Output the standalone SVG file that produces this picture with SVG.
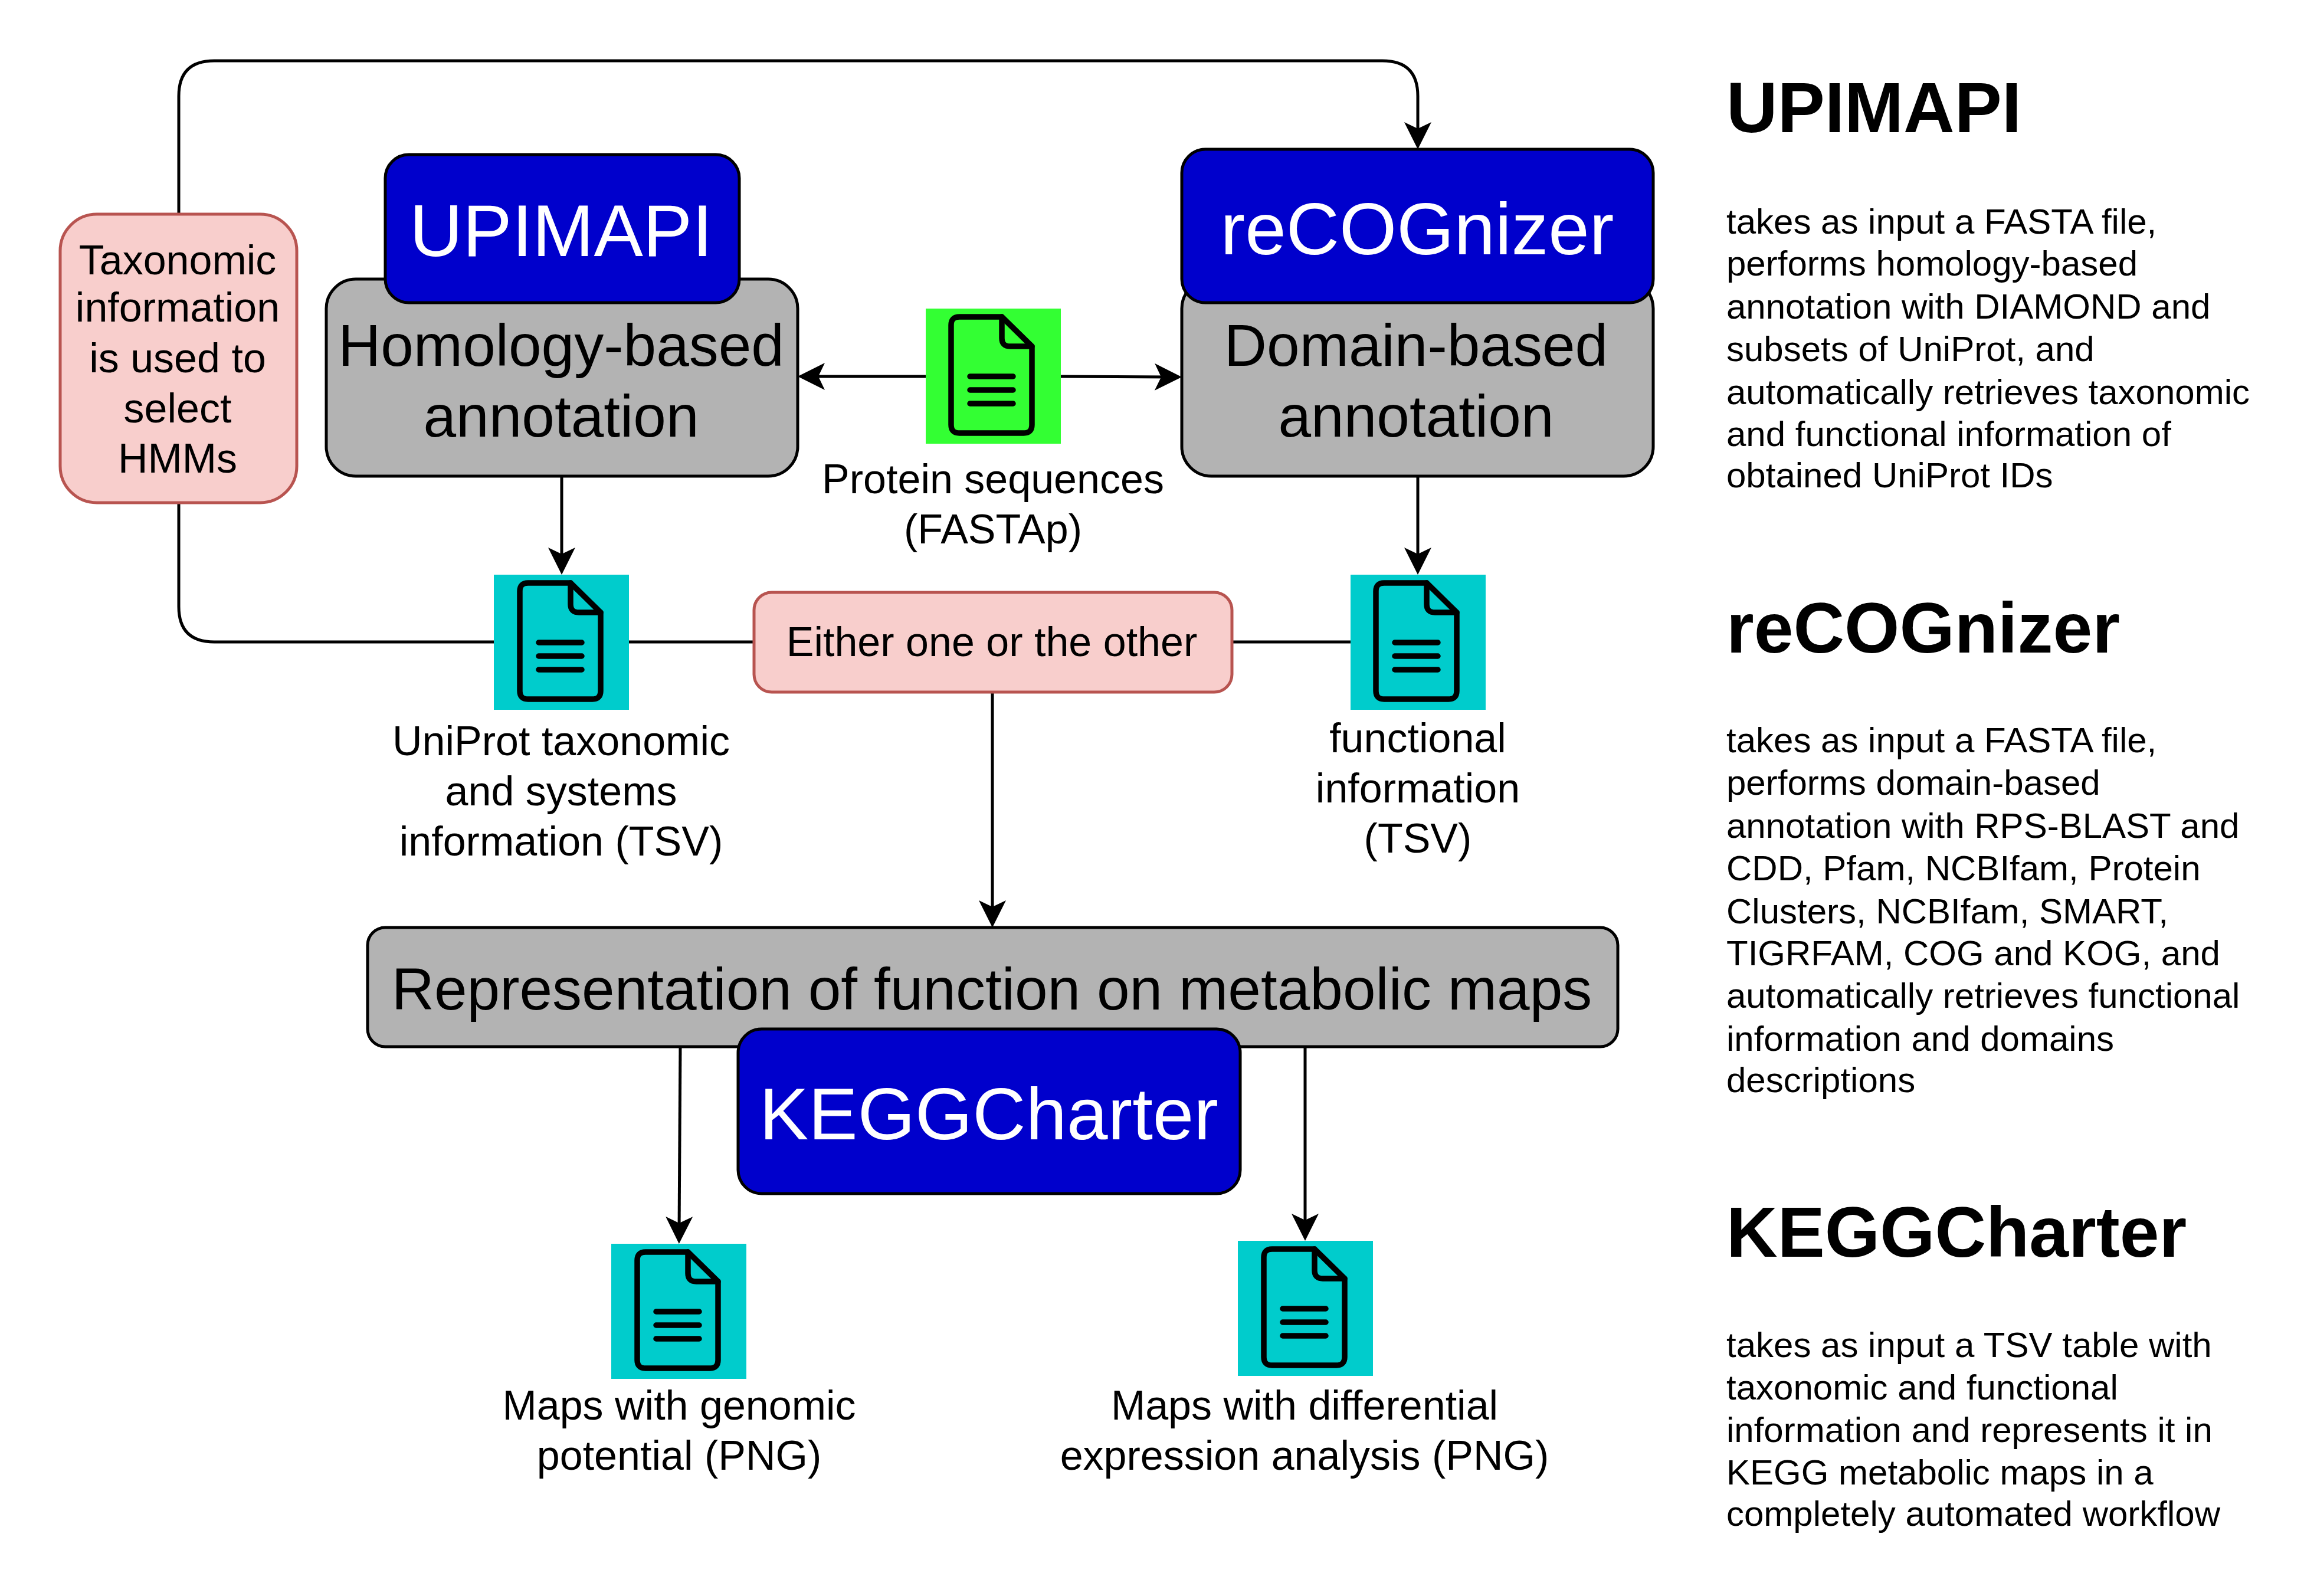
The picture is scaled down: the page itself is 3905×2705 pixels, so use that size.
<svg xmlns="http://www.w3.org/2000/svg" xmlns:xlink="http://www.w3.org/1999/xlink" width="3905" height="2705" viewBox="0 0 3905 2705">
<style>
text{font-family:"Liberation Sans",Arial,sans-serif;fill:#000}
.c{text-anchor:middle}
.s70{font-size:70px}
.s100{font-size:100px}
.s125{font-size:125px;fill:#fff}
.b{font-size:60px}
.t{font-size:120px;font-weight:bold}
.gray{fill:#b3b3b3;stroke:#000;stroke-width:5}
.blue{fill:#0000cc;stroke:#000;stroke-width:5}
.pink{fill:#f8cecc;stroke:#b85450;stroke-width:5}
.con{fill:none;stroke:#000;stroke-width:5}
.arr{marker-end:url(#ah)}
.ic{fill:none;stroke:#000;stroke-width:9.5;stroke-linejoin:round;stroke-linecap:round}
</style>
<defs>
<marker id="ah" markerUnits="userSpaceOnUse" viewBox="0 0 46 46" markerWidth="46" markerHeight="46" refX="26" refY="23" orient="auto"><path d="M0 0L46 23L0 46L11 23Z" fill="#000"/></marker>
<g id="docicon" class="ic">
<path d="M130 14H58Q44 14 44 28V197Q44 211 58 211H167Q181 211 181 197V64Z"/>
<path d="M130 14V50Q130 64 144 64H181"/>
<path d="M76 115H149M76 138H149M76 161H149"/>
</g>
</defs>
<rect width="3905" height="2705" fill="#fff"/>
<g id="connectors">
<path class="con arr" d="M303 364V163Q303 103 363 103H2343Q2403 103 2403 163V233"/>
<path class="con" d="M303 852V1028Q303 1088 363 1088H840"/>
<path class="con" d="M1063 1088H1280"/>
<path class="con" d="M2086 1088H2292"/>
<path class="con arr" d="M952 807V954"/>
<path class="con arr" d="M2403 807V954"/>
<path class="con arr" d="M1682 1173V1552"/>
<path class="con arr" d="M1153 1774L1151 2088"/>
<path class="con arr" d="M2212 1774V2083"/>
<path class="con arr" d="M1569 638H1372"/>
<path class="con arr" d="M1798 638L1983 639"/>
</g>
<g id="node-homology"><rect class="gray" x="553" y="473" width="799" height="334" rx="50"/><text class="s100 c" x="951" y="620">Homology-based</text><text class="s100 c" x="951" y="740">annotation</text></g>
<g id="node-upimapi"><rect class="blue" x="653" y="262" width="600" height="251" rx="40"/><text class="s125 c" x="951" y="434">UPIMAPI</text></g>
<g id="node-domain"><rect class="gray" x="2003" y="473" width="799" height="334" rx="50"/><text class="s100 c" x="2400" y="620">Domain-based</text><text class="s100 c" x="2400" y="740">annotation</text></g>
<g id="node-recognizer"><rect class="blue" x="2003" y="253" width="799" height="260" rx="40"/><text class="s125 c" x="2402" y="431">reCOGnizer</text></g>
<g id="node-taxonomic"><rect class="pink" x="102" y="363" width="401" height="489" rx="62"/><text class="s70 c" x="301" y="465">Taxonomic</text><text class="s70 c" x="301" y="545">information</text><text class="s70 c" x="301" y="631">is used to</text><text class="s70 c" x="301" y="716">select</text><text class="s70 c" x="301" y="801">HMMs</text></g>
<g id="node-fasta"><rect x="1569" y="523" width="229" height="229" fill="#33ff33"/><use xlink:href="#docicon" href="#docicon" x="1568" y="523"/><text class="s70 c" x="1683" y="836">Protein sequences</text><text class="s70 c" x="1683" y="921">(FASTAp)</text></g>
<g id="node-uniprot"><rect x="837" y="974" width="229" height="229" fill="#00cccc"/><use xlink:href="#docicon" href="#docicon" x="837" y="974"/><text class="s70 c" x="951" y="1280">UniProt taxonomic</text><text class="s70 c" x="951" y="1365">and systems</text><text class="s70 c" x="951" y="1450">information (TSV)</text></g>
<g id="node-functional"><rect x="2289" y="974" width="229" height="229" fill="#00cccc"/><use xlink:href="#docicon" href="#docicon" x="2288" y="974"/><text class="s70 c" x="2403" y="1275">functional</text><text class="s70 c" x="2403" y="1360">information</text><text class="s70 c" x="2403" y="1445">(TSV)</text></g>
<g id="node-either"><rect class="pink" x="1278" y="1004" width="810" height="169" rx="30"/><text class="s70 c" x="1681" y="1112">Either one or the other</text></g>
<g id="node-representation"><rect class="gray" x="623" y="1572" width="2119" height="202" rx="30"/><text class="s100 c" x="1681" y="1711">Representation of function on metabolic maps</text></g>
<g id="node-keggcharter"><rect class="blue" x="1251" y="1744" width="851" height="279" rx="40"/><text class="s125 c" x="1676" y="1931">KEGGCharter</text></g>
<g id="node-genomic"><rect x="1036" y="2108" width="229" height="229" fill="#00cccc"/><use xlink:href="#docicon" href="#docicon" x="1036" y="2108"/><text class="s70 c" x="1151" y="2406">Maps with genomic</text><text class="s70 c" x="1151" y="2491">potential (PNG)</text></g>
<g id="node-differential"><rect x="2098" y="2103" width="229" height="229" fill="#00cccc"/><use xlink:href="#docicon" href="#docicon" x="2098" y="2103"/><text class="s70 c" x="2211" y="2406">Maps with differential</text><text class="s70 c" x="2211" y="2491">expression analysis (PNG)</text></g>
<g id="legend-upimapi"><text class="t" x="2926" y="224">UPIMAPI</text>
<text class="b" x="2926" y="396">takes as input a FASTA file,</text><text class="b" x="2926" y="467">performs homology-based</text><text class="b" x="2926" y="540">annotation with DIAMOND and</text><text class="b" x="2926" y="612">subsets of UniProt, and</text><text class="b" x="2926" y="685">automatically retrieves taxonomic</text><text class="b" x="2926" y="756">and functional information of</text><text class="b" x="2926" y="826">obtained UniProt IDs</text></g>
<g id="legend-recognizer"><text class="t" x="2926" y="1106">reCOGnizer</text>
<text class="b" x="2926" y="1275">takes as input a FASTA file,</text><text class="b" x="2926" y="1347">performs domain-based</text><text class="b" x="2926" y="1420">annotation with RPS-BLAST and</text><text class="b" x="2926" y="1492">CDD, Pfam, NCBIfam, Protein</text><text class="b" x="2926" y="1565">Clusters, NCBIfam, SMART,</text><text class="b" x="2926" y="1636">TIGRFAM, COG and KOG, and</text><text class="b" x="2926" y="1708">automatically retrieves functional</text><text class="b" x="2926" y="1781">information and domains</text><text class="b" x="2926" y="1851">descriptions</text></g>
<g id="legend-keggcharter"><text class="t" x="2926" y="2130">KEGGCharter</text>
<text class="b" x="2926" y="2300">takes as input a TSV table with</text><text class="b" x="2926" y="2372">taxonomic and functional</text><text class="b" x="2926" y="2444">information and represents it in</text><text class="b" x="2926" y="2516">KEGG metabolic maps in a</text><text class="b" x="2926" y="2586">completely automated workflow</text></g>
</svg>
